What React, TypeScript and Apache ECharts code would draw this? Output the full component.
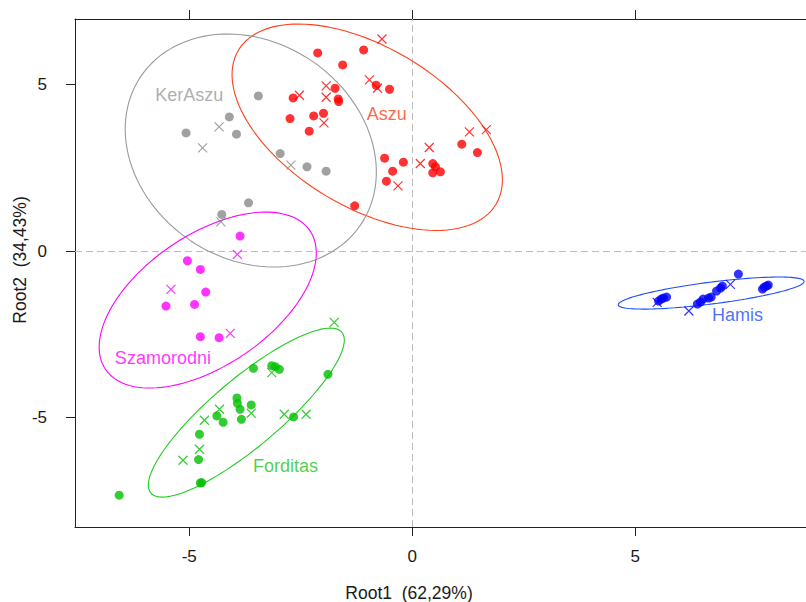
import React, { useEffect, useRef } from "react";
import * as echarts from "echarts";

// Tick positions on both discriminant axes
const xTicks = [-5, 0, 5];
const yTicks = [-5, 0, 5];

// Discriminant scores [Root1, Root2] – filled circles
const aszuDots = [
  [-2.12, 5.95], [-1.09, 6.04], [-1.56, 5.59], [-1.73, 4.89], [-1.65, 4.49], [-1.66, 4.57],
  [-2.67, 4.6], [-0.81, 4.98], [-0.51, 4.86], [-2.74, 3.98], [-2.21, 4.06], [-1.99, 4.14],
  [-2.31, 3.6], [-0.62, 2.79], [-0.2, 2.67], [-0.44, 2.4], [-0.58, 2.1], [-1.29, 1.36],
  [0.46, 2.63], [0.52, 2.53], [0.63, 2.38], [0.46, 2.35], [1.11, 3.21], [1.46, 2.96],
];
const kerAszuDots = [
  [-3.45, 4.66], [-4.1, 4.03], [-5.07, 3.55], [-3.94, 3.51], [-2.96, 2.93],
  [-2.36, 2.53], [-1.93, 2.4], [-3.67, 1.45], [-4.27, 1.1],
];
const szamorodniDots = [
  [-3.86, 0.45], [-5.04, -0.29], [-4.75, -0.55], [-4.63, -1.23],
  [-5.52, -1.65], [-4.88, -1.6], [-4.75, -2.57], [-4.33, -2.6],
];
const forditasDots = [
  [-3.56, -3.52], [-3.07, -3.47], [-2.98, -3.55], [-3.15, -3.44], [-1.89, -3.7],
  [-3.93, -4.41], [-3.92, -4.57], [-3.86, -4.75], [-3.61, -4.62], [-4.38, -4.95],
  [-4.24, -5.14], [-3.83, -5.05], [-4.77, -5.5], [-4.79, -6.26], [-4.75, -6.96],
  [-4.72, -6.95], [-2.66, -4.98], [-6.57, -7.33],
];
const hamisDots = [
  [5.52, -1.5], [5.63, -1.41], [5.7, -1.38], [5.58, -1.44],
  [6.39, -1.59], [6.52, -1.44], [6.64, -1.41], [6.7, -1.38], [6.46, -1.53],
  [6.82, -1.2], [6.91, -1.11], [6.95, -1.05], [7.31, -0.69],
  [7.85, -1.14], [7.94, -1.05], [7.98, -1.02], [7.89, -1.08],
];

// Discriminant scores [Root1, Root2] – crosses
const aszuCrosses = [
  [-0.68, 6.37], [-2.53, 4.68], [-1.93, 4.96], [-1.93, 4.62], [-0.96, 5.14], [-0.78, 4.89],
  [-1.98, 3.85], [0.38, 3.11], [0.18, 2.63], [1.28, 3.58], [1.66, 3.65], [-0.32, 1.96],
];
const kerAszuCrosses = [[-4.33, 3.73], [-4.7, 3.1], [-2.72, 2.58], [-4.29, 0.88]];
const szamorodniCrosses = [[-3.92, -0.1], [-5.41, -1.15], [-4.08, -2.47]];
const forditasCrosses = [
  [-4.32, -4.75], [-4.66, -5.08], [-3.61, -4.87], [-2.87, -4.9], [-2.38, -4.9],
  [-4.77, -5.95], [-5.14, -6.28], [-3.15, -3.65], [-1.75, -2.14],
];
const hamisCrosses = [[6.2, -1.8], [7.13, -1.0], [5.49, -1.54]];

// Group ellipses: centre, first and second conjugate semi-axis (data units)
const aszuEllipse = [[-1.01, 3.72], [2.886, -2.315], [-0.922, -2.061]];
const kerAszuEllipse = [[-3.62, 3.02], [2.465, -2.226], [-1.359, -2.699]];
const szamorodniEllipse = [[-4.585, -1.47], [2.29, 2.084], [0.824, -1.624]];
const forditasEllipse = [[-3.72, -4.85], [2.141, 2.414], [0.492, -0.783]];
const hamisEllipse = [[6.7, -1.26], [2.084, 0.355], [0.0308, -0.325]];

// Group names and where their labels sit
const groupNames = ["Aszu", "KerAszu", "Szamorodni", "Forditas", "Hamis"];
const labelAnchors = [[-0.57, 4.11], [-5.0, 4.69], [-5.59, -3.21], [-2.84, -6.44], [7.29, -1.91]];

const dotSets = [aszuDots, kerAszuDots, szamorodniDots, forditasDots, hamisDots];
const crossSets = [aszuCrosses, kerAszuCrosses, szamorodniCrosses, forditasCrosses, hamisCrosses];
const ellipseSets = [aszuEllipse, kerAszuEllipse, szamorodniEllipse, forditasEllipse, hamisEllipse];

const pointColors = ["#ff0000", "#8a8a8a", "#ff00ff", "#00c000", "#0000ff"];
const outlineColors = ["#ff4019", "#999999", "#ff00ff", "#1fcc1f", "#1a4cff"];
const labelColors = ["#ff4019", "#999999", "#ff00ff", "#1fc41f", "#1a4cff"];

const FONT = "'Liberation Sans', Arial, Helvetica, sans-serif";
const CROSS = "path://M0,0L10,10M10,0L0,10";

function ellipseOutline(e: number[][], n = 120): number[][] {
  const [c, u, v] = e;
  const pts: number[][] = [];
  for (let i = 0; i <= n; i++) {
    const t = (2 * Math.PI * i) / n;
    pts.push([
      c[0] + u[0] * Math.cos(t) + v[0] * Math.sin(t),
      c[1] + u[1] * Math.cos(t) + v[1] * Math.sin(t),
    ]);
  }
  return pts;
}

export default function App() {
  const ref = useRef<HTMLDivElement>(null);

  useEffect(() => {
    if (!ref.current) return;
    const chart = echarts.init(ref.current, null, { renderer: "svg" });

    const axisLineStyle = { color: "#222", width: 1 };
    const xMin = -7.56;
    const xMax = 8.87;
    const yMin = -8.285;
    const yMax = 6.97;

    const series: any[] = [];

    ellipseSets.forEach((e, i) => {
      const s: any = {
        type: "line",
        data: ellipseOutline(e),
        showSymbol: false,
        symbol: "none",
        silent: true,
        z: 2,
        lineStyle: { color: outlineColors[i], width: 1.1 },
      };
      if (i === 0) {
        s.markLine = {
          silent: true,
          symbol: ["none", "none"],
          label: { show: false },
          lineStyle: { color: "#bdbdbd", type: [7, 4], width: 1 },
          data: [{ xAxis: 0 }, { yAxis: 0 }],
          z: 1,
        };
      }
      series.push(s);
    });

    dotSets.forEach((d, i) => {
      series.push({
        type: "scatter",
        data: d,
        symbol: "circle",
        symbolSize: 9,
        silent: true,
        z: 4,
        itemStyle: { color: pointColors[i] },
      });
    });

    crossSets.forEach((d, i) => {
      series.push({
        type: "scatter",
        data: d,
        symbol: CROSS,
        symbolSize: 9,
        silent: true,
        z: 4,
        itemStyle: { color: pointColors[i], borderColor: pointColors[i], borderWidth: 1.2 },
      });
    });

    groupNames.forEach((name, i) => {
      series.push({
        type: "scatter",
        data: [{ name, value: labelAnchors[i] }],
        symbolSize: 1,
        silent: true,
        z: 5,
        itemStyle: { color: "rgba(0,0,0,0)" },
        label: {
          show: true,
          position: "inside",
          formatter: "{b}",
          color: labelColors[i],
          fontSize: 18,
          fontFamily: FONT,
        },
      });
    });

    chart.setOption({
      animation: false,
      backgroundColor: "#ffffff",
      textStyle: { fontFamily: FONT },
      grid: {
        left: 75,
        top: 19,
        right: -2,
        bottom: 75,
        containLabel: false,
        outerBoundsMode: "none",
      },
      xAxis: [
        {
          type: "value",
          position: "bottom",
          min: xMin,
          max: xMax,
          splitLine: { show: false },
          axisLine: { show: true, onZero: false, lineStyle: axisLineStyle },
          axisTick: { show: true, length: 9, customValues: xTicks, lineStyle: axisLineStyle },
          axisLabel: {
            customValues: xTicks,
            margin: 21,
            color: "#1a1a1a",
            fontSize: 17,
            fontFamily: FONT,
          },
        },
        {
          type: "value",
          position: "top",
          min: xMin,
          max: xMax,
          splitLine: { show: false },
          axisLine: { show: true, onZero: false, lineStyle: axisLineStyle },
          axisTick: { show: true, length: 9, customValues: xTicks, lineStyle: axisLineStyle },
          axisLabel: { show: false },
        },
      ],
      yAxis: [
        {
          type: "value",
          position: "left",
          min: yMin,
          max: yMax,
          splitLine: { show: false },
          axisLine: { show: true, onZero: false, lineStyle: axisLineStyle },
          axisTick: { show: true, length: 9, customValues: yTicks, lineStyle: axisLineStyle },
          axisLabel: {
            customValues: yTicks,
            margin: 28,
            color: "#1a1a1a",
            fontSize: 17,
            fontFamily: FONT,
          },
        },
        {
          type: "value",
          position: "right",
          min: yMin,
          max: yMax,
          splitLine: { show: false },
          axisLine: { show: true, onZero: false, lineStyle: axisLineStyle },
          axisTick: { show: false },
          axisLabel: { show: false },
        },
      ],
      graphic: [
        {
          type: "text",
          x: 409,
          y: 593,
          silent: true,
          style: {
            text: "Root1  (62,29%)",
            fill: "#1a1a1a",
            fontSize: 17.5,
            fontFamily: FONT,
            align: "center",
            verticalAlign: "middle",
          },
        },
        {
          type: "text",
          x: 20,
          y: 260,
          rotation: Math.PI / 2,
          silent: true,
          style: {
            text: "Root2  (34,43%)",
            fill: "#1a1a1a",
            fontSize: 17.5,
            fontFamily: FONT,
            align: "center",
            verticalAlign: "middle",
          },
        },
      ],
      series,
    });

    return () => chart.dispose();
  }, []);

  return (
    <div
      ref={ref}
      style={{ position: "fixed", left: 0, top: 0, width: 806, height: 602, background: "#fff" }}
    />
  );
}
